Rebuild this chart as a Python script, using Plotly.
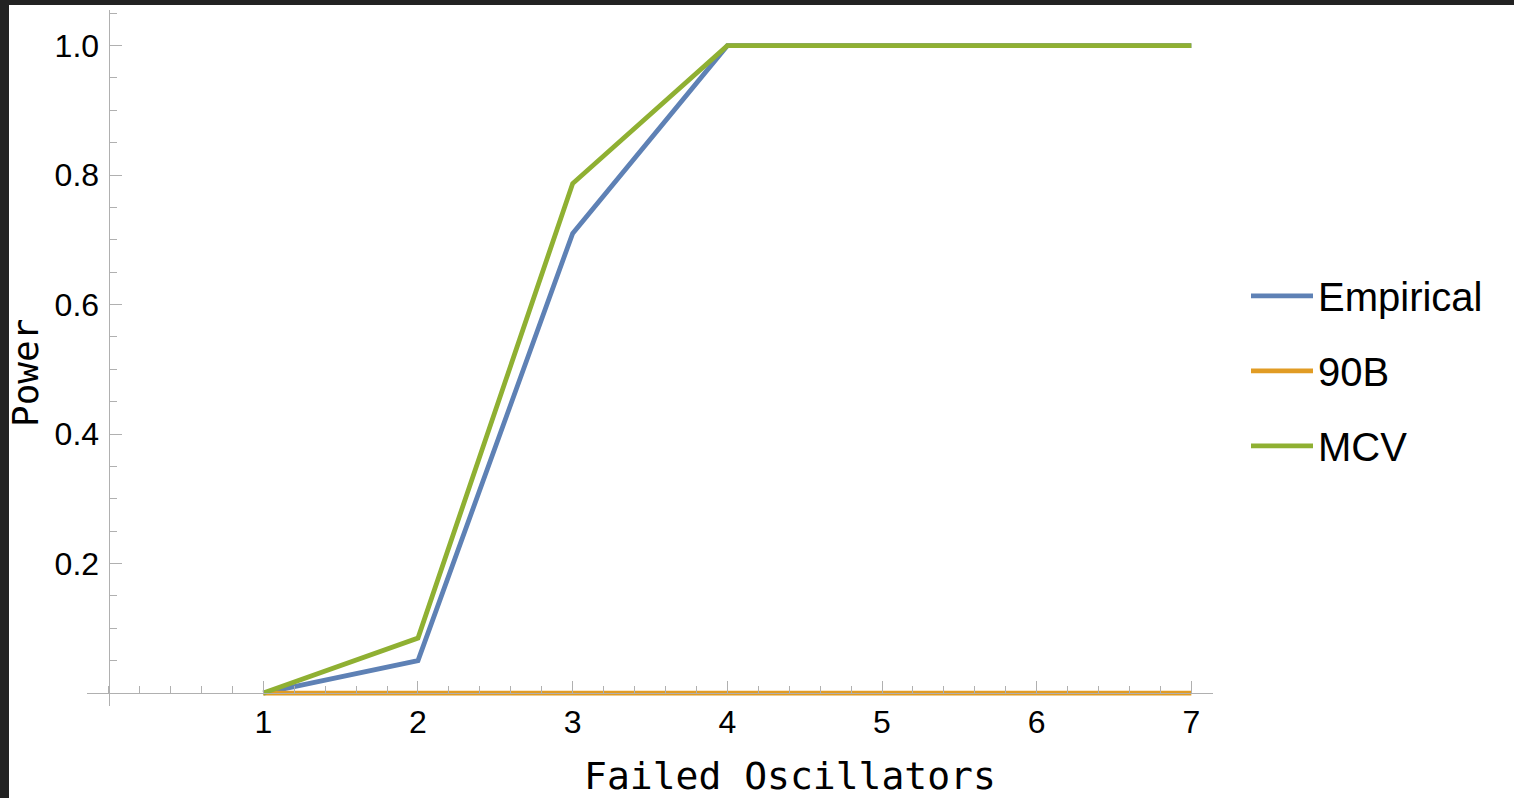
import plotly.graph_objects as go

failed_oscillators = [1, 2, 3, 4, 5, 6, 7]
empirical = [0.0, 0.05, 0.71, 1.0, 1.0, 1.0, 1.0]
b90 = [0.0, 0.0, 0.0, 0.0, 0.0, 0.0, 0.0]
mcv = [0.0, 0.085, 0.787, 1.0, 1.0, 1.0, 1.0]

series_names = ["Empirical", "90B", "MCV"]
series_values = [empirical, b90, mcv]
series_colors = ["#5E81B5", "#E19C24", "#8FB032"]

x_ticks = [1, 2, 3, 4, 5, 6, 7]
y_ticks = [0.2, 0.4, 0.6, 0.8, 1.0]
y_tick_text = ["0.2", "0.4", "0.6", "0.8", "1.0"]

X_RANGE = [-0.14, 7.14]
Y_RANGE = [-0.02, 1.055]

fig = go.Figure()
for name, vals, col in zip(series_names, series_values, series_colors):
    fig.add_trace(go.Scatter(
        x=failed_oscillators, y=vals, mode="lines", name=name,
        legendgroup=name,
        line=dict(color=col, width=4.8),
    ))

axis_col = "#b0b0b0"
tick_font = dict(family="Liberation Sans, Arial, sans-serif", size=32, color="#000000")

fig.update_layout(
    width=1514, height=798,
    margin=dict(l=87, r=301, t=10, b=92),
    paper_bgcolor="white", plot_bgcolor="white",
    showlegend=True,
    legend=dict(
        x=(1246 - 87) / 1126, y=0.4816, xanchor="left", yanchor="middle",
        font=dict(family="Liberation Sans, Arial, sans-serif", size=40, color="#000000"),
        tracegroupgap=20, itemwidth=62, bgcolor="rgba(0,0,0,0)", borderwidth=0,
    ),
    xaxis=dict(
        range=X_RANGE, anchor="free",
        position=(0 - Y_RANGE[0]) / (Y_RANGE[1] - Y_RANGE[0]),
        showgrid=False, zeroline=False,
        showline=True, linecolor=axis_col, linewidth=1.3,
        tickmode="array", tickvals=x_ticks, ticktext=[str(v) for v in x_ticks],
        ticks="inside", ticklen=12, tickwidth=1.3, tickcolor=axis_col,
        tickfont=tick_font,
        minor=dict(ticks="inside", ticklen=7, tickwidth=1.2, tickcolor=axis_col,
                   dtick=0.2, tick0=0, showgrid=False),
    ),
    yaxis=dict(
        range=Y_RANGE, anchor="free",
        position=(0 - X_RANGE[0]) / (X_RANGE[1] - X_RANGE[0]),
        showgrid=False, zeroline=False,
        showline=True, linecolor=axis_col, linewidth=1.3,
        tickmode="array", tickvals=y_ticks, ticktext=y_tick_text,
        ticks="inside", ticklen=12, tickwidth=1.3, tickcolor=axis_col,
        tickfont=tick_font, ticklabelstandoff=3,
        minor=dict(ticks="inside", ticklen=7, tickwidth=1.2, tickcolor=axis_col,
                   dtick=0.05, tick0=0, showgrid=False),
    ),
)

# axis titles
fig.add_annotation(
    text="Failed Oscillators", xref="paper", yref="paper",
    x=(790 - 87) / 1126, y=-(776 - 706) / 696, xanchor="center", yanchor="middle",
    showarrow=False,
    font=dict(family="DejaVu Sans Mono, monospace", size=38, color="#000000"),
)
fig.add_annotation(
    text="Power", xref="paper", yref="paper",
    x=(25 - 87) / 1126, y=(706 - 373) / 696, xanchor="center", yanchor="middle",
    textangle=-90, showarrow=False,
    font=dict(family="DejaVu Sans Mono, monospace", size=36, color="#000000"),
)

# dark frame strips at top and left of the picture
fig.add_shape(type="rect", xref="paper", yref="paper", layer="above",
              x0=-87 / 1126, x1=(1514 - 87) / 1126, y0=1 + 5 / 696, y1=1 + 10 / 696,
              fillcolor="#222222", line=dict(width=0))
fig.add_shape(type="rect", xref="paper", yref="paper", layer="above",
              x0=-87 / 1126, x1=(9 - 87) / 1126, y0=-92 / 696, y1=1 + 10 / 696,
              fillcolor="#222222", line=dict(width=0))

fig.write_html(
    "out.html",
    config={"displayModeBar": False},
    post_script="document.body.style.margin='0';document.body.style.overflow='hidden';",
)
